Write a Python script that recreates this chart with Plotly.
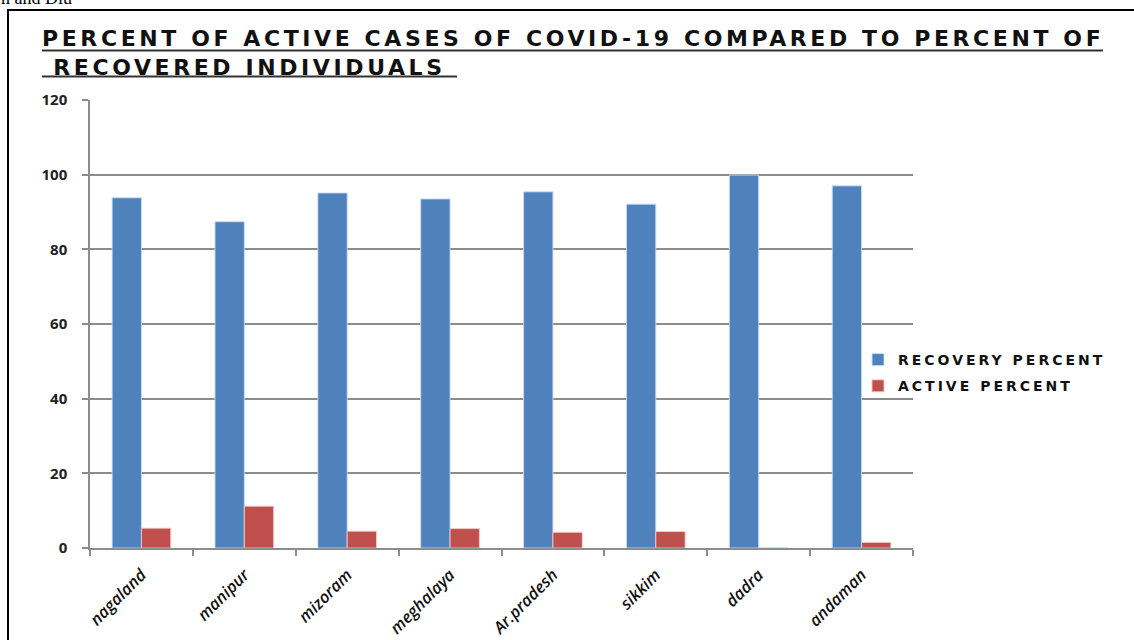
import plotly.graph_objects as go

states = ["nagaland", "manipur", "mizoram", "meghalaya", "Ar.pradesh", "sikkim", "dadra", "andaman"]
recovery_percent = [93.8, 87.4, 95.1, 93.5, 95.4, 92.1, 99.9, 97.0]
active_percent = [5.3, 11.2, 4.5, 5.2, 4.2, 4.4, 0.0, 1.5]
y_ticks = [0, 20, 40, 60, 80, 100, 120]

W, H = 1134, 640
L, R, T, B = 90, 221, 100, 92
PW, PH = W - L - R, H - T - B

def px_x(px):
    return (px - L) / PW

def px_y(py):
    return (H - B - py) / PH

fig = go.Figure()
fig.add_trace(go.Bar(
    x=states, y=recovery_percent, legendgroup="rec",
    name="<span style='letter-spacing:3px'>RECOVERY PERCENT</span>",
    marker=dict(color="#4F81BD", line=dict(color="rgba(200,220,245,0.9)", width=1)),
))
fig.add_trace(go.Bar(
    x=states, y=active_percent, legendgroup="act",
    name="<span style='letter-spacing:3px'>ACTIVE PERCENT</span>",
    marker=dict(color="#C0504D", line=dict(color="rgba(245,200,200,0.9)", width=1)),
))

title_text = ("<span style='letter-spacing:3.6px'>PERCENT OF ACTIVE CASES OF COVID-19 COMPARED TO PERCENT OF</span>"
              "<br><span style='letter-spacing:3.6px'> RECOVERED INDIVIDUALS</span>")

fig.update_layout(
    width=W, height=H,
    margin=dict(l=L, r=R, t=T, b=B, pad=0, autoexpand=False),
    paper_bgcolor="white", plot_bgcolor="white",
    barmode="group", bargap=0.43, bargroupgap=0,
    title=dict(
        text=title_text,
        x=42 / W, xref="container", xanchor="left",
        y=1 - 46 / H, yref="container", yanchor="top",
        font=dict(family="DejaVu Sans", size=22, color="#111", weight="bold"),
    ),
    legend=dict(
        x=px_x(858), xanchor="left", y=px_y(344), yanchor="top",
        font=dict(family="DejaVu Sans", size=14, color="#111", weight="bold"),
        bgcolor="rgba(0,0,0,0)", itemclick=False, tracegroupgap=5,
        traceorder="grouped",
    ),
    showlegend=True,
    font=dict(family="DejaVu Sans"),
)

fig.update_xaxes(
    automargin=False,
    showline=True, linecolor="#8c8c8c", linewidth=1.5,
    ticks="outside", tickson="boundaries", ticklen=6, tickcolor="#8c8c8c", tickwidth=1.5,
    tickangle=-45, ticklabelstandoff=9,
    tickfont=dict(family="Open Sans", size=16.5, color="#111", style="italic", weight=600),
    showgrid=False,
)
fig.update_yaxes(
    automargin=False,
    range=[0, 120], tickvals=y_ticks,
    showline=True, linecolor="#8c8c8c", linewidth=1.5,
    ticks="outside", ticklen=6, tickcolor="#8c8c8c", tickwidth=1.5,
    ticklabelstandoff=12,
    showgrid=True, gridcolor="#8c8c8c", gridwidth=1.5,
    zeroline=False,
    tickfont=dict(family="Open Sans", size=15, color="#222", weight="bold"),
)

shapes = [
    # page frame (top and left)
    dict(type="line", xref="paper", yref="paper", x0=px_x(7), x1=px_x(W + 5), y0=px_y(10), y1=px_y(10),
         line=dict(color="black", width=2)),
    dict(type="line", xref="paper", yref="paper", x0=px_x(8), x1=px_x(8), y0=px_y(10), y1=px_y(H + 5),
         line=dict(color="black", width=2)),
    # title underlines
    dict(type="line", xref="paper", yref="paper", x0=px_x(42), x1=px_x(1103), y0=px_y(50.5), y1=px_y(50.5),
         line=dict(color="#333", width=2)),
    dict(type="line", xref="paper", yref="paper", x0=px_x(42), x1=px_x(457), y0=px_y(76.5), y1=px_y(76.5),
         line=dict(color="#333", width=2)),
]
fig.update_layout(shapes=shapes)

fig.add_annotation(
    text="n and Diu", xref="paper", yref="paper",
    x=px_x(-1), xanchor="left", y=px_y(10), yanchor="bottom",
    showarrow=False, font=dict(family="Liberation Serif", size=18, color="black"),
)

fig.write_html("out.html")
